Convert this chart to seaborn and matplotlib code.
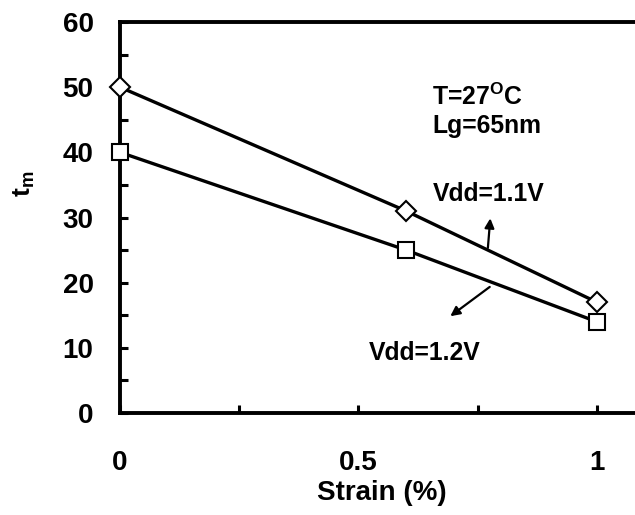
import matplotlib
matplotlib.use("Agg")
import matplotlib.pyplot as plt
import seaborn as sns
import pandas as pd
from matplotlib.ticker import MultipleLocator

strain = [0.0, 0.6, 1.0]
tm_vdd11 = [50, 31, 17]
tm_vdd12 = [40, 25, 14]
x_ticks = [0, 0.5, 1]
x_tick_labels = ["0", "0.5", "1"]
y_ticks = [0, 10, 20, 30, 40, 50, 60]

sns.set_theme(style="white")
plt.rcParams["font.family"] = ["Liberation Sans", "DejaVu Sans"]
plt.rcParams["font.weight"] = "bold"
plt.rcParams["text.color"] = "black"
plt.rcParams["axes.labelcolor"] = "black"
plt.rcParams["xtick.color"] = "black"
plt.rcParams["ytick.color"] = "black"
plt.rcParams["mathtext.fontset"] = "custom"
plt.rcParams["mathtext.rm"] = "Liberation Sans:bold"
plt.rcParams["mathtext.bf"] = "Liberation Sans:bold"
plt.rcParams["mathtext.it"] = "Liberation Sans:bold"

fig = plt.figure(figsize=(6.35, 5.15), dpi=100)
ax = fig.add_axes([120 / 635, 102 / 515, 1 - 120 / 635, (413 - 22) / 515])

df11 = pd.DataFrame({"Strain": strain, "tm": tm_vdd11})
df12 = pd.DataFrame({"Strain": strain, "tm": tm_vdd12})

sns.lineplot(data=df11, x="Strain", y="tm", ax=ax, color="black", lw=2.4,
             marker="D", markersize=10, markerfacecolor="white",
             markeredgecolor="black", markeredgewidth=1.5, clip_on=False, zorder=5)
sns.lineplot(data=df12, x="Strain", y="tm", ax=ax, color="black", lw=2.4,
             marker="s", markersize=12, markerfacecolor="white",
             markeredgecolor="black", markeredgewidth=1.5, clip_on=False, zorder=5)

ax.set_xlim(0, 1.08)
ax.set_ylim(0, 60)
ax.set_xticks(x_ticks)
ax.set_xticklabels(x_tick_labels)
ax.set_yticks(y_ticks)
ax.xaxis.set_minor_locator(MultipleLocator(0.25))
ax.yaxis.set_minor_locator(MultipleLocator(5))

for s in ["left", "bottom", "top"]:
    ax.spines[s].set_linewidth(2.8)
    ax.spines[s].set_color("black")
ax.spines["right"].set_visible(False)

ax.tick_params(axis="both", which="both", direction="in", length=6, width=2.2,
               color="black", top=False, right=False, left=True, bottom=True)
ax.tick_params(axis="y", which="major", labelsize=20, pad=19)
ax.tick_params(axis="x", which="major", labelsize=20, pad=27)
for lab in ax.get_xticklabels() + ax.get_yticklabels():
    lab.set_fontweight("bold")

ax.set_xlabel("Strain (%)", fontsize=20, fontweight="bold")
ax.xaxis.label.set_va("center")
ax.xaxis.set_label_coords((382 - 120) / 515, (413 - 493) / 391)
ax.set_ylabel(r"t$_\mathrm{m}$", fontsize=19, fontweight="bold")
ax.yaxis.label.set_va("center")
ax.yaxis.set_label_coords((24 - 120) / 515, (413 - 184) / 391)

fs = 17.8
ax.text(0.655, 47.2, r"T=27$^\mathrm{O}$C", fontsize=fs, fontweight="bold", va="baseline", ha="left")
ax.text(0.655, 43.0, "Lg=65nm", fontsize=fs, fontweight="bold", va="baseline", ha="left")
ax.text(0.657, 32.5, "Vdd=1.1V", fontsize=fs, fontweight="bold", va="baseline", ha="left")
ax.text(0.521, 8.1, "Vdd=1.2V", fontsize=fs, fontweight="bold", va="baseline", ha="left")

ax.annotate("", xy=(0.777, 30.3), xytext=(0.771, 24.9),
            arrowprops=dict(arrowstyle="-|>", color="black", lw=1.6, mutation_scale=14))
ax.annotate("", xy=(0.688, 14.6), xytext=(0.78, 19.6),
            arrowprops=dict(arrowstyle="-|>", color="black", lw=1.6, mutation_scale=14))

fig.savefig("out.png", dpi=100)
